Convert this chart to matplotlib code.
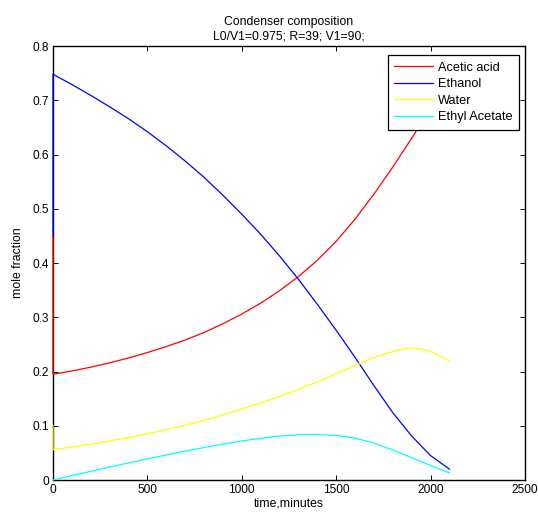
import matplotlib
matplotlib.use('Agg')
import matplotlib.pyplot as plt

# time axis (minutes); the first two points are both at t=0 (initial charge -> condenser)
time_min = [0, 0, 100, 200, 300, 400, 500, 600, 700, 800, 900, 1000,
            1100, 1200, 1300, 1400, 1500, 1600, 1700, 1800, 1900, 2000, 2100]

acetic_acid = [0.45, 0.195, 0.201, 0.208, 0.216, 0.225, 0.235, 0.246, 0.258, 0.272, 0.288, 0.306,
               0.326, 0.349, 0.375, 0.405, 0.440, 0.481, 0.527, 0.577, 0.630, 0.686, 0.744]
ethanol = [0.45, 0.748, 0.729, 0.709, 0.688, 0.666, 0.642, 0.616, 0.588, 0.558, 0.525, 0.490,
           0.453, 0.413, 0.370, 0.324, 0.276, 0.226, 0.174, 0.124, 0.081, 0.045, 0.020]
water = [0.10, 0.056, 0.061, 0.066, 0.072, 0.078, 0.085, 0.093, 0.101, 0.110, 0.120, 0.131,
         0.142, 0.154, 0.167, 0.181, 0.196, 0.211, 0.226, 0.237, 0.244, 0.238, 0.219]
ethyl_acetate = [0.0, 0.0, 0.008, 0.016, 0.024, 0.0315, 0.039, 0.0462, 0.0532, 0.0599, 0.0662, 0.072,
                 0.077, 0.081, 0.0835, 0.084, 0.0822, 0.0772, 0.068, 0.0555, 0.041, 0.027, 0.013]

series = [
    ("Acetic acid", acetic_acid, "#ff0000"),
    ("Ethanol", ethanol, "#0000ff"),
    ("Water", water, "#ffff00"),
    ("Ethyl Acetate", ethyl_acetate, "#00ffff"),
]

plt.rcParams["font.family"] = ["Liberation Sans", "DejaVu Sans"]
plt.rcParams["font.size"] = 8.8

fig = plt.figure(figsize=(5.38, 5.13), dpi=100)
ax = fig.add_axes([0.0985, 0.0643, 0.8773, 0.846])

for name, vals, col in series:
    ax.plot(time_min, vals, color=col, linewidth=0.9, label=name, zorder=3, clip_on=False)

ax.set_xlim(0, 2500)
ax.set_ylim(0, 0.8)
ax.set_xticks([0, 500, 1000, 1500, 2000, 2500])
ax.set_yticks([0, 0.1, 0.2, 0.3, 0.4, 0.5, 0.6, 0.7, 0.8])
ax.set_yticklabels(["0", "0.1", "0.2", "0.3", "0.4", "0.5", "0.6", "0.7", "0.8"])
ax.tick_params(direction="in", top=True, right=True, length=3.5, width=0.7,
               labelsize=8.6, pad=3)
for sp in ax.spines.values():
    sp.set_linewidth(1.0)

ax.set_title("Condenser composition\nL0/V1=0.975; R=39; V1=90;", fontsize=8.8, pad=5,
             linespacing=1.25)
ax.set_xlabel("time,minutes", fontsize=8.8, labelpad=1)
ax.set_ylabel("mole fraction", fontsize=8.8, labelpad=6)

leg = ax.legend(loc="upper right", bbox_to_anchor=(0.987, 0.979), fancybox=False,
                framealpha=1, edgecolor="black", fontsize=9.2, handlelength=3.0,
                handletextpad=0.4, labelspacing=0.36, borderaxespad=0.0, borderpad=0.5)
leg.get_frame().set_linewidth(0.9)
leg.set_zorder(5)

fig.savefig("out.png", dpi=100)
plt.close(fig)
